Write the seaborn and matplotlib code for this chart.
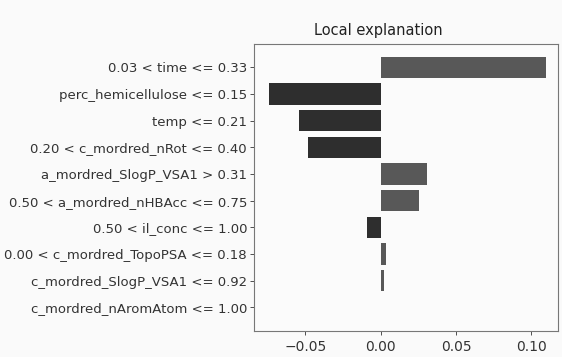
import matplotlib
matplotlib.use("Agg")
import matplotlib.pyplot as plt
import seaborn as sns
import pandas as pd

# LIME-style local explanation
features = [
    "0.03 < time <= 0.33",
    "perc_hemicellulose <= 0.15",
    "temp <= 0.21",
    "0.20 < c_mordred_nRot <= 0.40",
    "a_mordred_SlogP_VSA1 > 0.31",
    "0.50 < a_mordred_nHBAcc <= 0.75",
    "0.50 < il_conc <= 1.00",
    "0.00 < c_mordred_TopoPSA <= 0.18",
    "c_mordred_SlogP_VSA1 <= 0.92",
    "c_mordred_nAromAtom <= 1.00",
]
weights = [0.1098, -0.0742, -0.0545, -0.0485, 0.0305, 0.0256, -0.0093, 0.0035, 0.0024, 0.0]

df = pd.DataFrame({"feature": features, "weight": weights})
df["sign"] = ["pos" if w > 0 else "neg" for w in df["weight"]]

sns.set_theme(style="ticks")
plt.rcParams["font.family"] = ["DejaVu Sans"]

fig, ax = plt.subplots(figsize=(5.62, 3.57), dpi=100)
fig.patch.set_facecolor("#fafafa")
ax.set_facecolor("#fbfbfb")

sns.barplot(data=df, x="weight", y="feature", hue="sign",
            palette={"pos": "#585858", "neg": "#2e2e2e"},
            orient="h", dodge=False, legend=False, width=0.8,
            linewidth=0, ax=ax)

ax.set_xlim(-0.0841, 0.1177)
ax.set_ylim(9.89, -0.89)
ax.set_xticks([-0.05, 0.0, 0.05, 0.10])
ax.set_xticklabels(["\u22120.05", "0.00", "0.05", "0.10"])
ax.set_xlabel("")
ax.set_ylabel("")
ax.set_title("Local explanation", fontsize=10.5, color="#222222", x=0.41, pad=6)
ax.tick_params(axis="y", labelsize=9.5, colors="#333333", length=3, width=0.6, pad=2)
ax.tick_params(axis="x", labelsize=10, colors="#333333", length=3, width=0.6)
for s in ax.spines.values():
    s.set_color("#777777")
    s.set_linewidth(0.8)

fig.subplots_adjust(left=0.452, right=0.993, top=0.878, bottom=0.073)
fig.savefig("out.png", dpi=100, facecolor=fig.get_facecolor())
